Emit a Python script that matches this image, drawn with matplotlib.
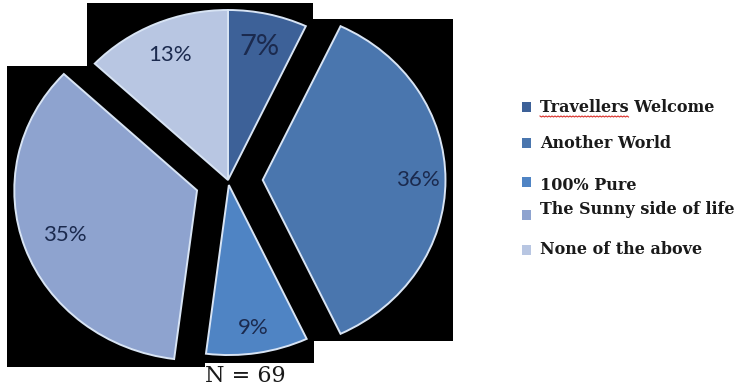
import numpy as np
import matplotlib.pyplot as plt
from matplotlib.patches import Rectangle

W, H = 739, 388
SX = 1.075  # the source picture is a bit stretched sideways

labels = ['Travellers Welcome', 'Another World', '100% Pure',
          'The Sunny side of life', 'None of the above']
shares = [7, 36, 9, 35, 13]
explode = [0.0, 0.19, 0.03, 0.18, 0.0]
colors = ['#3d6198', '#4a76ae', '#4f84c4', '#8ea3cf', '#b8c6e2']
pct_dist = [0.80, 0.85, 0.85, 0.77, 0.80]
pct_size = [21, 16, 16, 16, 16]
n_total = 69

fig = plt.figure(figsize=(W / 100, H / 100), dpi=100)
ax = fig.add_axes([0, 0, 1, 1])

cx, cy, R = 228 / SX, H - 180, 170
wedges, _ = ax.pie(shares, explode=[e * R for e in explode], colors=colors,
                   startangle=90, counterclock=False, radius=R, center=(cx, cy),
                   wedgeprops=dict(edgecolor='#d8e4f4', linewidth=1.4))
ax.set_aspect('auto')
ax.set_xlim(0, W / SX)
ax.set_ylim(0, H)
ax.axis('off')

# black boxes behind every slice (bounding box of each wedge)
pad = 7.5
for w in wedges:
    w.set_zorder(3)
    bb = w.get_path().get_extents()
    ax.add_patch(Rectangle((bb.x0 - pad / SX, bb.y0 - pad), bb.width + 2 * pad / SX,
                           bb.height + 2 * pad, facecolor='black', edgecolor='none',
                           zorder=1))

for w, v, d, fs in zip(wedges, shares, pct_dist, pct_size):
    th = np.deg2rad((w.theta1 + w.theta2) / 2)
    x0, y0 = w.center
    ax.text(x0 + d * w.r * np.cos(th), y0 + d * w.r * np.sin(th), f'{v}%',
            ha='center', va='center', fontsize=fs, family='Lato',
            color='#1b2a4e', zorder=5)

# legend and N label in pixel coordinates
lax = fig.add_axes([0, 0, 1, 1])
lax.set_xlim(0, W)
lax.set_ylim(H, 0)
lax.axis('off')
row_y = [107, 144, 185, 210, 249]
mark_y = [107, 143, 182, 215, 250]
lfont = dict(fontsize=11.5, family='DejaVu Serif', fontweight='bold', color='#1a1a1a')
for lab, c, ty, my in zip(labels, colors, row_y, mark_y):
    lax.add_patch(Rectangle((522, my - 5), 9, 10, facecolor=c, edgecolor='none'))
    lax.text(540, ty, lab, ha='left', va='center', **lfont)

# red spell-check squiggle under "Travellers"
probe = lax.text(540, row_y[0], labels[0].split()[0], ha='left', va='center', alpha=0, **lfont)
fig.canvas.draw()
pb = probe.get_window_extent().transformed(lax.transData.inverted())
sx = np.arange(pb.x0, pb.x1, 1.5)
sy = row_y[0] + 9 + 1.0 * (np.arange(len(sx)) % 2)
lax.plot(sx, sy, color='#d9302a', lw=0.8)

lax.text(245, 376, f'N = {n_total}', ha='center', va='center', fontsize=16,
         family='DejaVu Serif', color='#1a1a1a')

fig.savefig('out.png', dpi=100)
